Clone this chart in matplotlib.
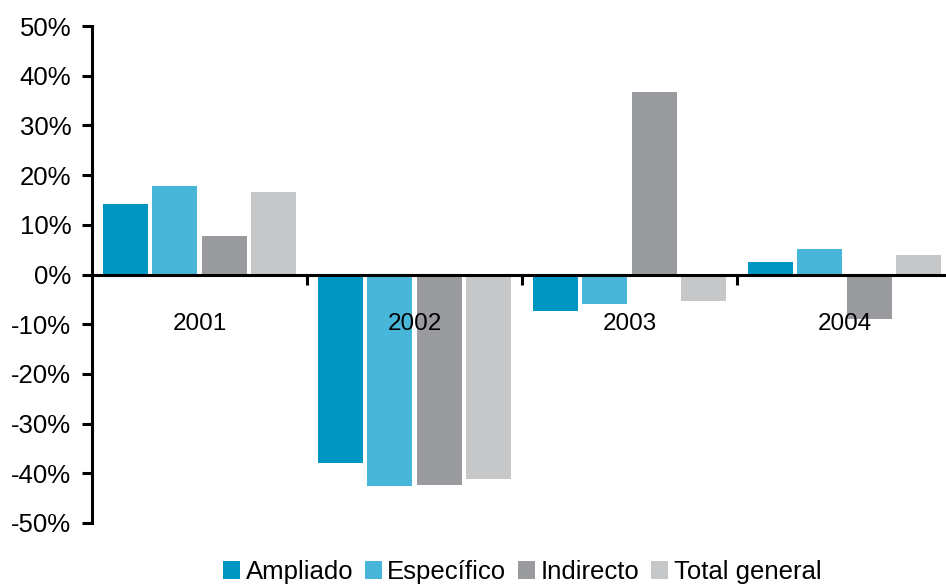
import matplotlib.pyplot as plt
import numpy as np
from matplotlib.ticker import FuncFormatter, FixedLocator

plt.rcParams['font.family'] = ['Liberation Sans', 'DejaVu Sans']

# Data (percent change per year)
years = ["2001", "2002", "2003", "2004"]
series_names = ["Ampliado", "Específico", "Indirecto", "Total general"]
ampliado = [14.1, -37.9, -7.4, 2.6]
especifico = [17.9, -42.6, -6.0, 5.2]
indirecto = [7.8, -42.4, 36.7, -9.0]
total_general = [16.7, -41.2, -5.4, 4.0]
colors = ["#0096c4", "#48b6d8", "#9a9b9f", "#c6c7c9"]

fig = plt.figure(figsize=(9.46, 5.85), dpi=100)
ax = fig.add_axes([92 / 946, 62 / 585, 860 / 946, 497 / 585])

x = np.arange(len(years))
bar_w = 0.209
step = 0.229
all_series = [ampliado, especifico, indirecto, total_general]
for k, (vals, name, col) in enumerate(zip(all_series, series_names, colors)):
    offset = (k - 1.5) * step
    ax.bar(x + offset, vals, width=bar_w, color=col, label=name, zorder=2)

ax.set_xlim(-0.5, 3.5)
ax.set_ylim(-50, 50)
ax.set_yticks(np.arange(-50, 51, 10))
ax.yaxis.set_major_formatter(FuncFormatter(lambda v, p: f"{int(round(v))}%"))

# spines
for s in ["top", "right"]:
    ax.spines[s].set_visible(False)
ax.spines["left"].set_linewidth(2.2)
ax.spines["bottom"].set_position(("data", 0))
ax.spines["bottom"].set_linewidth(2.2)
ax.spines["bottom"].set_zorder(3)

ax.xaxis.set_major_locator(FixedLocator([0.5, 1.5, 2.5]))
ax.set_xticklabels([])
ax.tick_params(axis="x", direction="out", length=7, width=2.2)
ax.tick_params(axis="y", direction="out", length=7, width=2.2,
               labelsize=18.5, pad=8)

# category labels below the zero line
for i, yr in enumerate(years):
    ax.text(i, -10, yr, ha="center", va="center", fontsize=17.5, zorder=4)

fig.legend(loc="center", bbox_to_anchor=(522 / 946, 1 - 572 / 585), ncol=4,
           frameon=False, fontsize=18.5, handlelength=0.68, handleheight=0.68,
           handletextpad=0.2, columnspacing=0.45, borderpad=0)

fig.savefig("out.png", dpi=100)
